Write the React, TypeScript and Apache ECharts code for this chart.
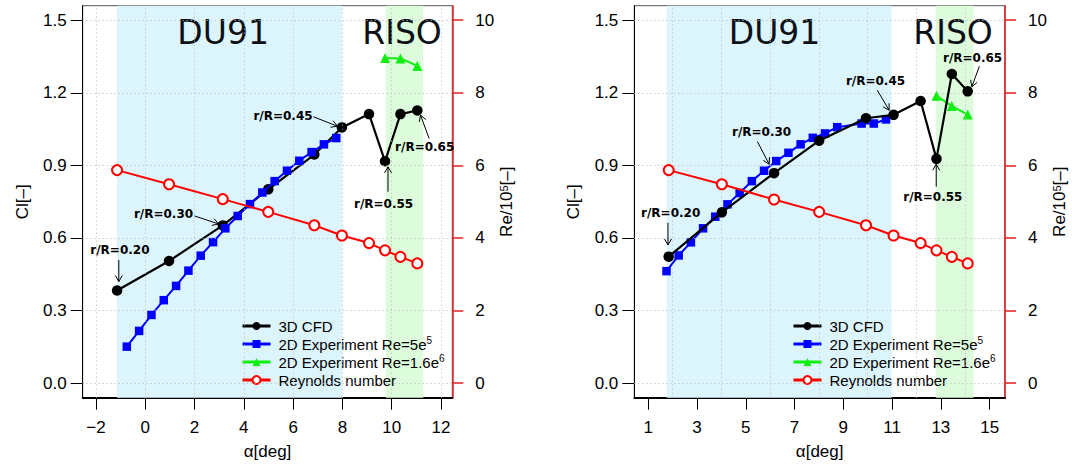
import React, { useEffect, useRef } from "react";
import * as echarts from "echarts";

// ---------- data: left panel ----------
const cfdAlphaL = [-1.145, 0.965, 3.145, 4.99, 6.86, 7.98, 9.08, 9.73, 10.355, 11.04];
const cfdClL = [0.383, 0.505, 0.652, 0.801, 0.945, 1.057, 1.112, 0.917, 1.112, 1.127];
const reL = [5.87, 5.48, 5.07, 4.72, 4.35, 4.07, 3.86, 3.66, 3.48, 3.3];
const expAlphaL = [-0.75, -0.25, 0.25, 0.75, 1.25, 1.75, 2.25, 2.75, 3.25, 3.75, 4.25, 4.75, 5.25, 5.75, 6.25, 6.75, 7.25, 7.75];
const expClL = [0.151, 0.216, 0.282, 0.343, 0.402, 0.465, 0.527, 0.583, 0.64, 0.691, 0.74, 0.788, 0.835, 0.878, 0.919, 0.955, 0.987, 1.013];
const risoAlphaL = [9.73, 10.355, 11.04];
const risoClL = [1.344, 1.342, 1.311];
const du91RangeL = [-1.145, 7.98];
const risoRangeL = [9.76, 11.28];

// ---------- data: right panel ----------
const cfdAlphaR = [1.84, 4.02, 6.16, 8.01, 9.93, 11.06, 12.17, 12.82, 13.45, 14.1];
const cfdClR = [0.523, 0.706, 0.868, 1.002, 1.095, 1.109, 1.166, 0.927, 1.278, 1.206];
const reR = [5.87, 5.48, 5.06, 4.72, 4.35, 4.07, 3.86, 3.66, 3.48, 3.3];
const expAlphaR = [1.75, 2.25, 2.75, 3.25, 3.75, 4.25, 4.75, 5.25, 5.75, 6.25, 6.75, 7.25, 7.75, 8.25, 8.75, 9.75, 10.25, 10.75];
const expClR = [0.463, 0.528, 0.582, 0.64, 0.688, 0.739, 0.786, 0.835, 0.878, 0.918, 0.952, 0.987, 1.014, 1.032, 1.058, 1.073, 1.073, 1.09];
const risoAlphaR = [12.82, 13.45, 14.1];
const risoClR = [1.188, 1.145, 1.11];
const du91RangeR = [1.76, 10.98];
const risoRangeR = [12.79, 14.34];

// ---------- axes ----------
const xTicksL = [-2, 0, 2, 4, 6, 8, 10, 12];
const xGridL = [-2, 0, 2, 4, 6, 8, 10, 12];
const xTicksR = [1, 3, 5, 7, 9, 11, 13, 15];
const xGridR = [2, 4, 6, 8, 10, 12, 14];
const clTicks = [0, 0.3, 0.6, 0.9, 1.2, 1.5];
const reTicks = [0, 2, 4, 6, 8, 10];

const seriesNames = ["3D CFD", "2D Experiment Re=5e5", "2D Experiment Re=1.6e6", "Reynolds number"];
const legendLabels = ["3D CFD", "2D Experiment Re=5e{sup|5}", "2D Experiment Re=1.6e{sup|6}", "Reynolds number"];

// ---------- annotations (data coordinates) ----------
const annLabels = ["r/R=0.20", "r/R=0.30", "r/R=0.45", "r/R=0.55", "r/R=0.65"];
const annTextL = [[-1.03, 0.55], [0.74, 0.698], [5.59, 1.105], [9.67, 0.739], [11.34, 0.977]];
const annFromL = [[-1.075, 0.509], [2.0, 0.691], [6.82, 1.101], [9.85, 0.791], [11.52, 1.011]];
const annToL = [[-1.075, 0.42], [2.98, 0.658], [7.8, 1.062], [9.85, 0.894], [11.17, 1.108]];
const annTextR = [[1.92, 0.702], [5.65, 1.039], [10.32, 1.248], [12.67, 0.768], [14.3, 1.343]];
const annFromR = [[1.81, 0.663], [5.48, 0.998], [10.39, 1.211], [12.81, 0.812], [14.58, 1.31]];
const annToR = [[1.81, 0.571], [5.96, 0.905], [10.88, 1.128], [12.81, 0.905], [14.27, 1.225]];

const regionLabels = ["DU91", "RISO"];
const regionTextL = [[3.16, 1.449], [10.42, 1.449]];
const regionTextR = [[6.18, 1.449], [13.5, 1.449]];

const SANS = "Liberation Sans";
const zip = (a: number[], b: number[]) => a.map((v, i) => [v, b[i]]);

function panel(idx: number, d: any) {
  const xi = idx;
  const yCl = idx * 2;
  const yRe = idx * 2 + 1;
  const series: any[] = [];
  series.push({
    name: "_shade" + idx,
    type: "line",
    xAxisIndex: xi,
    yAxisIndex: yCl,
    data: [],
    z: 0,
    silent: true,
    markArea: {
      silent: true,
      label: { show: false },
      data: [
        [{ xAxis: d.du91[0], itemStyle: { color: "#dcf4fc" } }, { xAxis: d.du91[1] }],
        [{ xAxis: d.riso[0], itemStyle: { color: "#dcfcdc" } }, { xAxis: d.riso[1] }],
      ],
    },
  });
  series.push({
    name: "_grid" + idx,
    type: "line",
    xAxisIndex: xi,
    yAxisIndex: yCl,
    data: [],
    z: 1,
    silent: true,
    markLine: {
      silent: true,
      symbol: ["none", "none"],
      label: { show: false },
      lineStyle: { type: [1, 3], color: "#b8b8b8", width: 1 },
      data: [...d.xGrid.map((v: number) => ({ xAxis: v })), ...clTicks.map((v) => ({ yAxis: v }))],
    },
  });
  const cfd = {
    name: seriesNames[0],
    type: "line",
    xAxisIndex: xi,
    yAxisIndex: yCl,
    data: zip(d.cfdA, d.cfdC),
    symbol: "circle",
    symbolSize: 10.5,
    lineStyle: { color: "#000", width: 2.2 },
    itemStyle: { color: "#000" },
    z: idx === 0 ? 3 : 5,
  };
  const exp = {
    name: seriesNames[1],
    type: "line",
    xAxisIndex: xi,
    yAxisIndex: yCl,
    data: zip(d.expA, d.expC),
    symbol: "rect",
    symbolSize: 8.5,
    lineStyle: { color: "#0000ff", width: 2 },
    itemStyle: { color: "#0000ff" },
    z: 4,
  };
  const riso = {
    name: seriesNames[2],
    type: "line",
    xAxisIndex: xi,
    yAxisIndex: yCl,
    data: zip(d.risoA, d.risoC),
    symbol: "triangle",
    symbolSize: 10,
    lineStyle: { color: "#11ee11", width: 2 },
    itemStyle: { color: "#11ee11" },
    z: 4,
  };
  const re = {
    name: seriesNames[3],
    type: "line",
    xAxisIndex: xi,
    yAxisIndex: yRe,
    data: zip(d.cfdA, d.re),
    symbol: "emptyCircle",
    symbolSize: 10,
    lineStyle: { color: "#ff0000", width: 2 },
    itemStyle: { color: "#ff0000", borderColor: "#ff0000", borderWidth: 1.8 },
    z: 6,
  };
  series.push(cfd, exp, riso, re);
  // annotations
  series.push({
    name: "_ann" + idx,
    type: "custom",
    xAxisIndex: xi,
    yAxisIndex: yCl,
    silent: true,
    clip: false,
    z: 10,
    data: d.annText,
    renderItem: (params: any, api: any) => {
      const i = params.dataIndex;
      const t = api.coord(d.annText[i]);
      const p1 = api.coord(d.annFrom[i]);
      const p2 = api.coord(d.annTo[i]);
      const th = Math.atan2(p1[1] - p2[1], p1[0] - p2[0]);
      const len = 7;
      const ang = Math.PI / 6;
      return {
        type: "group",
        children: [
          {
            type: "text",
            x: t[0],
            y: t[1],
            style: {
              text: annLabels[i],
              fontFamily: "DejaVu Sans",
              fontWeight: "bold",
              fontSize: 12,
              fill: "#000",
              align: "center",
              verticalAlign: "middle",
            },
          },
          {
            type: "line",
            shape: { x1: p1[0], y1: p1[1], x2: p2[0], y2: p2[1] },
            style: { stroke: "#000", lineWidth: 1 },
          },
          {
            type: "polyline",
            shape: {
              points: [
                [p2[0] + len * Math.cos(th + ang), p2[1] + len * Math.sin(th + ang)],
                [p2[0], p2[1]],
                [p2[0] + len * Math.cos(th - ang), p2[1] + len * Math.sin(th - ang)],
              ],
            },
            style: { stroke: "#000", lineWidth: 1, fill: null },
          },
        ],
      };
    },
  });
  series.push({
    name: "_reg" + idx,
    type: "custom",
    xAxisIndex: xi,
    yAxisIndex: yCl,
    silent: true,
    clip: false,
    z: 2,
    data: d.regText,
    renderItem: (params: any, api: any) => {
      const i = params.dataIndex;
      const t = api.coord(d.regText[i]);
      return {
        type: "text",
        x: t[0],
        y: t[1],
        style: {
          text: regionLabels[i],
          fontFamily: "DejaVu Sans",
          fontSize: 33,
          fill: "#0d1117",
          align: "center",
          verticalAlign: "middle",
        },
      };
    },
  });
  return series;
}

function xAxisCfg(idx: number, min: number, max: number, ticks: number[]) {
  return {
    gridIndex: idx,
    type: "value",
    min,
    max,
    axisLine: { show: true, onZero: false, lineStyle: { color: "#000", width: 2 } },
    axisTick: { show: true, customValues: ticks, length: 12, lineStyle: { color: "#000", width: 1 } },
    axisLabel: {
      customValues: ticks,
      formatter: (v: number) => (v < 0 ? "\u2212" + Math.abs(v) : String(v)),
      fontSize: 17,
      color: "#000",
      fontFamily: SANS,
      margin: 21,
    },
    splitLine: { show: false },
    name: "α[deg]",
    nameLocation: "middle",
    nameGap: 45,
    nameTextStyle: { fontSize: 17, color: "#000", fontFamily: SANS },
  };
}

function yAxesCfg(idx: number) {
  return [
    {
      gridIndex: idx,
      type: "value",
      position: "left",
      min: -0.06,
      max: 1.56,
      axisLine: { show: true, onZero: false, lineStyle: { color: "#000", width: 1 } },
      axisTick: { show: true, customValues: clTicks, length: 12, lineStyle: { color: "#000", width: 1 } },
      axisLabel: {
        customValues: clTicks,
        formatter: (v: number) => v.toFixed(1),
        fontSize: 17,
        color: "#000",
        fontFamily: SANS,
        margin: 16,
      },
      splitLine: { show: false },
      name: "Cl[\u2013]",
      nameLocation: "middle",
      nameRotate: 90,
      nameGap: 52,
      nameTextStyle: { fontSize: 17, color: "#000", fontFamily: SANS },
    },
    {
      gridIndex: idx,
      type: "value",
      position: "right",
      min: -0.4,
      max: 10.4,
      axisLine: { show: true, onZero: false, lineStyle: { color: "#e02020", width: 1.5 } },
      axisTick: { show: true, customValues: reTicks, length: 11, lineStyle: { color: "#e02020", width: 1.5 } },
      axisLabel: {
        customValues: reTicks,
        fontSize: 17,
        color: "#000",
        fontFamily: SANS,
        margin: 23,
      },
      splitLine: { show: false },
      name: "Re/10{sup|5}[\u2013]",
      nameLocation: "middle",
      nameRotate: 90,
      nameGap: 46,
      nameTextStyle: {
        fontSize: 17,
        color: "#000",
        fontFamily: SANS,
        rich: { sup: { fontSize: 11, fontFamily: SANS, color: "#000", verticalAlign: "top", lineHeight: 9 } },
      },
    },
  ];
}

function legendCfg(left: number) {
  return {
    left,
    top: 312,
    orient: "vertical",
    data: seriesNames,
    itemWidth: 28,
    itemHeight: 10,
    itemGap: 0,
    selectedMode: false,
    lineStyle: { width: 3 },
    formatter: (name: string) => legendLabels[seriesNames.indexOf(name)],
    textStyle: {
      fontSize: 15,
      fontFamily: SANS,
      color: "#000",
      lineHeight: 18,
      padding: [0, 0, 0, 3],
      rich: { sup: { fontSize: 10, fontFamily: SANS, color: "#000", verticalAlign: "top", lineHeight: 8 } },
    },
  };
}

export default function App() {
  const ref = useRef<HTMLDivElement>(null);
  useEffect(() => {
    if (!ref.current) return;
    const chart = echarts.init(ref.current, null, { renderer: "svg" });
    const left = {
      cfdA: cfdAlphaL, cfdC: cfdClL, re: reL, expA: expAlphaL, expC: expClL,
      risoA: risoAlphaL, risoC: risoClL, du91: du91RangeL, riso: risoRangeL, xGrid: xGridL,
      annText: annTextL, annFrom: annFromL, annTo: annToL, regText: regionTextL,
    };
    const right = {
      cfdA: cfdAlphaR, cfdC: cfdClR, re: reR, expA: expAlphaR, expC: expClR,
      risoA: risoAlphaR, risoC: risoClR, du91: du91RangeR, riso: risoRangeR, xGrid: xGridR,
      annText: annTextR, annFrom: annFromR, annTo: annToR, regText: regionTextR,
    };
    chart.setOption({
      animation: false,
      backgroundColor: "#fff",
      grid: [
        { left: 82.7, top: 5.7, width: 369.6, height: 392, show: true, borderColor: "#555", borderWidth: 1, backgroundColor: "transparent" },
        { left: 634.3, top: 5.7, width: 370.7, height: 392, show: true, borderColor: "#555", borderWidth: 1, backgroundColor: "transparent" },
      ],
      xAxis: [xAxisCfg(0, -2.54, 12.46, xTicksL), xAxisCfg(1, 0.43, 15.63, xTicksR)],
      yAxis: [...yAxesCfg(0), ...yAxesCfg(1)],
      legend: [legendCfg(236), legendCfg(787)],
      series: [...panel(0, left), ...panel(1, right)],
    });
    return () => chart.dispose();
  }, []);
  return <div ref={ref} style={{ position: "fixed", left: 0, top: 0, width: 1072, height: 466 }} />;
}
